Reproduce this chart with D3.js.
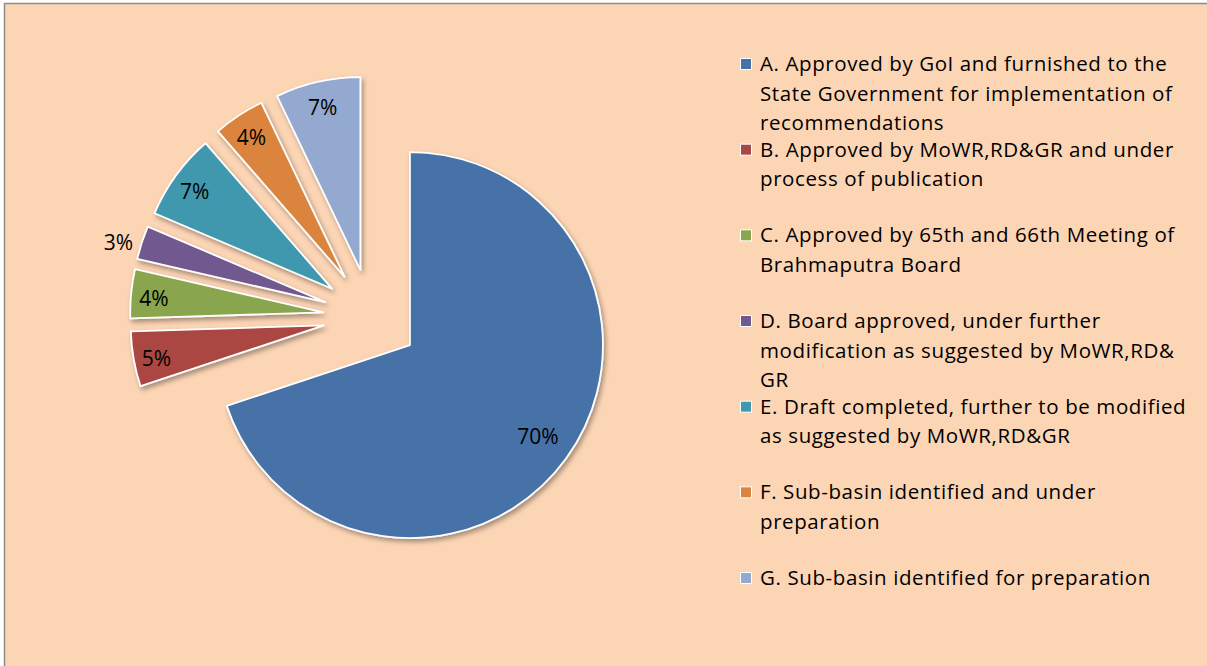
<!DOCTYPE html>
<html>
<head>
<meta charset="utf-8">
<script src="https://cdn.jsdelivr.net/npm/d3@7"></script>
<style>
  body { margin: 0; background: #fff; }
  svg { display: block; }
  .label, .legendText { font-family: "Open Sans", sans-serif; fill: #000; }
</style>
</head>
<body>
<script>
//chart data
var categories = ["A", "B", "C", "D", "E", "F", "G"];
var values = [69.9, 4.6, 4.1, 2.8, 7.2, 4.3, 7.1];
var legendLabels = [
    ["A. Approved by GoI and furnished to the", "State Government for implementation of", "recommendations"],
    ["B. Approved by MoWR,RD&GR and under", "process of publication"],
    ["C. Approved by 65th and 66th Meeting of", "Brahmaputra Board"],
    ["D. Board approved, under further", "modification as suggested by MoWR,RD&", "GR"],
    ["E. Draft completed, further to be modified", "as suggested by MoWR,RD&GR"],
    ["F. Sub-basin identified and under", "preparation"],
    ["G. Sub-basin identified for preparation"]
];
var colors = ["#4672A8", "#AA4643", "#89A54E", "#71588F", "#4198AF", "#DB843D", "#93A9CF"];

var width = 1207, height = 666;

var svg = d3.select("body")
    .append("svg")
    .attr("width", width)
    .attr("height", height);

//drop shadow for slices
var defs = svg.append("defs");
defs.append("filter")
    .attr("id", "shadow")
    .attr("x", "-20%").attr("y", "-20%")
    .attr("width", "140%").attr("height", "140%")
    .append("feDropShadow")
    .attr("dx", 2).attr("dy", 3)
    .attr("stdDeviation", 2.5)
    .attr("flood-color", "#000")
    .attr("flood-opacity", 0.35);

//chart area background and border
svg.append("rect")
    .attr("x", 4).attr("y", 3)
    .attr("width", width - 4).attr("height", height - 3)
    .attr("fill", "#FCD5B5");
svg.append("path")
    .attr("d", "M4.5," + height + "V3.5H" + width)
    .attr("fill", "none")
    .attr("stroke", "#8c8c8c")
    .attr("stroke-width", 1.5);

//pie layout
var cx = 371, cy = 317, radius = 193, explode = 48;

var color = d3.scaleOrdinal().domain(categories).range(colors);

var pie = d3.pie()
    .sort(null)
    .value(function(d){ return d.value; });

var data = categories.map(function(c, i){
    return {cat: c, value: values[i]};
});
var arcs = pie(data);
var total = d3.sum(values);

var arc = d3.arc().innerRadius(0).outerRadius(radius);

//offset of each slice along its bisector
function offset(d){
    var a = (d.startAngle + d.endAngle) / 2;
    return [Math.sin(a) * explode, -Math.cos(a) * explode];
}

var g = svg.append("g")
    .attr("transform", "translate(" + cx + "," + cy + ")");

g.selectAll(".slice")
    .data(arcs)
    .enter()
    .append("path")
    .attr("class", "slice")
    .attr("transform", function(d){
        var o = offset(d);
        return "translate(" + o[0] + "," + o[1] + ")";
    })
    .attr("d", arc)
    .attr("fill", function(d){ return color(d.data.cat); })
    .attr("stroke", "#fff")
    .attr("stroke-width", 1.8)
    .attr("stroke-linejoin", "round")
    .attr("filter", "url(#shadow)");

//data labels (smallest slice gets its label outside)
g.selectAll(".label")
    .data(arcs)
    .enter()
    .append("text")
    .attr("class", "label")
    .attr("font-size", 21)
    .attr("dy", "0.5em")
    .attr("text-anchor", function(d){
        return d.data.value < 3 ? "end" : "middle";
    })
    .attr("transform", function(d){
        var o = offset(d);
        var a = (d.startAngle + d.endAngle) / 2;
        var r = d.data.value > 50 ? 158 : (d.data.value < 3 ? 202 : 170);
        var x = o[0] + Math.sin(a) * r;
        var y = o[1] - Math.cos(a) * r;
        if (d.data.value > 50) y -= 4;
        return "translate(" + x + "," + y + ")";
    })
    .text(function(d){
        return Math.round(d.data.value / total * 100) + "%";
    });

//legend
var legendY = d3.scalePoint()
    .domain(categories)
    .range([64, 578]);

var legend = svg.selectAll(".legend")
    .data(categories)
    .enter()
    .append("g")
    .attr("class", "legend")
    .attr("transform", function(d){
        return "translate(740," + legendY(d) + ")";
    });

legend.append("rect")
    .attr("x", 0.5).attr("y", -5.5)
    .attr("width", 11).attr("height", 11)
    .attr("fill", function(d){ return color(d); })
    .attr("stroke", "#fff")
    .attr("stroke-width", 1);

legend.append("text")
    .attr("class", "legendText")
    .attr("font-size", 20.5)
    .attr("letter-spacing", 0.6)
    .attr("x", 20)
    .attr("y", 7)
    .selectAll("tspan")
    .data(function(d, i){ return legendLabels[i]; })
    .enter()
    .append("tspan")
    .attr("x", 20)
    .attr("dy", function(d, i){ return i === 0 ? 0 : 29.5; })
    .text(function(d){ return d; });
</script>
</body>
</html>
